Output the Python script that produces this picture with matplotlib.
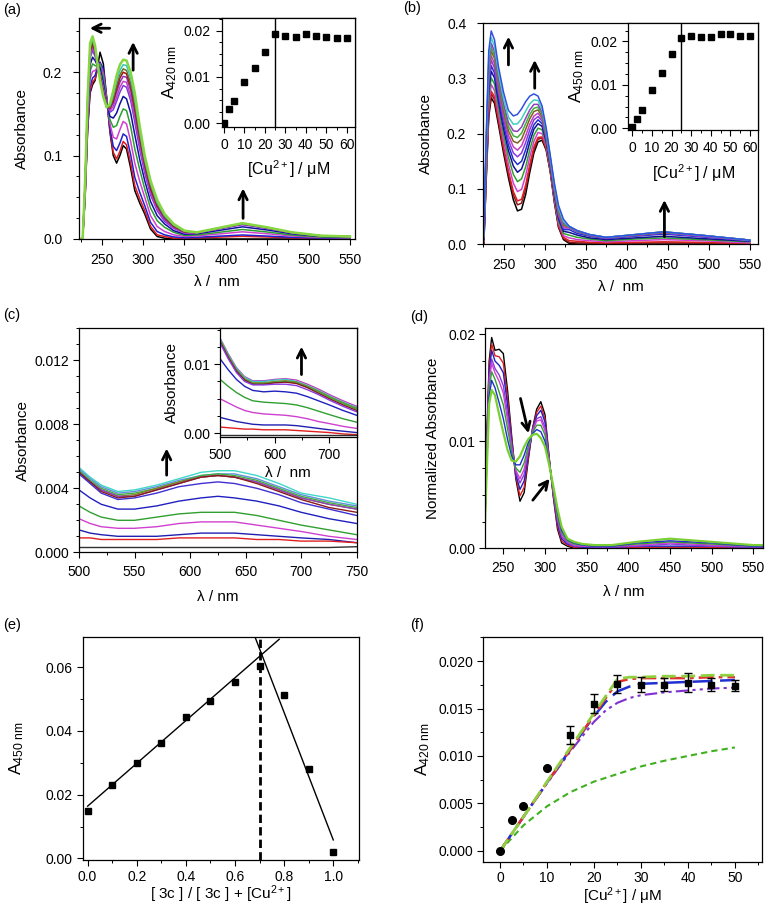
import matplotlib
matplotlib.use('Agg')
import matplotlib.pyplot as plt
from matplotlib.ticker import MultipleLocator, FormatStrFormatter

plt.rcParams['font.family'] = ['Liberation Sans', 'DejaVu Sans']
plt.rcParams['mathtext.fontset'] = 'custom'
plt.rcParams['mathtext.rm'] = 'Liberation Sans'
plt.rcParams['mathtext.it'] = 'Liberation Sans'
plt.rcParams['mathtext.default'] = 'regular'
plt.rcParams['font.size'] = 10

# ---------------- panel (a) ----------------
a_wl = [222, 227, 230, 233, 236, 239, 242, 245, 248, 252, 256, 260, 264, 268, 272, 276, 280, 285, 290, 296,
        302, 309, 317, 326, 337, 350, 365, 390, 420, 450, 480, 515, 550]
a_abs = [
    [0, 0, .050, .130, .175, .185, .190, .205, .224, .210, .170, .128, .100, .091, .100, .112, .108, .085, .058, .043,
     .030, .012, .003, .001, 0, 0, 0, 0, 0, 0, 0, 0, 0],
    [0, 0, .051, .132, .178, .188, .192, .205, .212, .200, .169, .130, .104, .096, .105, .117, .113, .091, .064, .048,
     .034, .015, .005, .003, .001, .001, .0014, .0022, .0032, .0024, .0014, .0007, .0005],
    [0, 0, .053, .136, .183, .193, .196, .206, .212, .204, .168, .133, .111, .106, .115, .126, .123, .101, .074, .056,
     .040, .020, .009, .005, .0025, .0014, .0020, .0033, .0048, .0035, .0020, .0010, .0008],
    [0, 0, .056, .141, .192, .201, .202, .206, .210, .199, .167, .138, .122, .120, .131, .141, .138, .117, .091, .069,
     .050, .028, .015, .009, .005, .003, .0036, .0059, .0086, .0063, .0036, .0018, .0014],
    [0, 0, .059, .147, .201, .210, .208, .207, .209, .193, .165, .143, .134, .136, .147, .156, .154, .135, .108, .083,
     .060, .037, .022, .014, .008, .0043, .0048, .0078, .0114, .0084, .0048, .0024, .0018],
    [0, 0, .061, .153, .209, .218, .214, .208, .205, .187, .163, .147, .145, .151, .162, .171, .168, .151, .125, .095,
     .070, .045, .028, .018, .010, .0057, .0062, .0100, .0146, .0108, .0062, .0031, .0023],
    [0, 0, .064, .158, .217, .226, .219, .209, .200, .182, .162, .152, .155, .165, .176, .184, .182, .166, .140, .107,
     .079, .053, .034, .021, .0126, .0070, .0072, .0117, .0171, .0126, .0072, .0036, .0027],
    [0, 0, .065, .160, .220, .229, .222, .209, .199, .180, .161, .154, .159, .170, .182, .189, .188, .171, .146, .112,
     .083, .056, .036, .023, .0135, .0075, .0074, .0121, .0177, .0130, .0074, .0037, .0028],
    [0, 0, .066, .162, .224, .232, .224, .209, .196, .178, .160, .156, .163, .176, .188, .195, .194, .178, .153, .118,
     .087, .059, .039, .024, .0146, .0081, .0076, .0124, .0180, .0133, .0076, .0038, .0029],
    [0, 0, .067, .164, .226, .234, .226, .209, .195, .176, .160, .157, .166, .180, .193, .200, .198, .183, .157, .121,
     .090, .061, .040, .026, .0153, .0085, .0077, .0125, .0182, .0134, .0077, .0038, .0029],
    [0, 0, .068, .166, .228, .237, .227, .209, .194, .174, .159, .158, .169, .184, .197, .204, .202, .187, .162, .125,
     .092, .064, .042, .027, .0160, .0089, .0078, .0126, .0184, .0136, .0078, .0039, .0029],
    [0, 0, .069, .168, .231, .240, .229, .210, .192, .172, .159, .160, .173, .190, .202, .209, .208, .193, .168, .129,
     .096, .067, .044, .028, .0170, .0094, .0078, .0127, .0186, .0137, .0078, .0039, .0029],
    [0, 0, .070, .170, .235, .243, .232, .210, .190, .170, .158, .162, .178, .196, .209, .215, .214, .200, .175, .135,
     .100, .070, .047, .030, .0180, .0100, .0080, .0130, .0190, .0140, .0080, .0040, .0030],
]
a_colors = ['#000000', '#e41a1c', '#2020d0', '#d040d0', '#2ca02c', '#1010a0', '#7b3ae0', '#c040c0',
            '#9030c0', '#a01010', '#707020', '#30c8c8', '#86d640']
a_ins_x = [0, 2.5, 5, 10, 15, 20, 25, 30, 35, 40, 45, 50, 55, 60]
a_ins_y = [0.0, 0.0032, 0.0048, 0.0090, 0.0119, 0.0153, 0.0192, 0.0189, 0.0186, 0.0192, 0.0189, 0.0186,
           0.0184, 0.0185]

# ---------------- panel (b) ----------------
b_wl = [222, 226, 229, 232, 235, 239, 244, 250, 256, 262, 267, 272, 277, 282, 287, 292, 297, 302, 307, 312,
        317, 323, 330, 340, 355, 375, 410, 445, 490, 550]
b_abs = [
    [0, 0, .12, .23, .265, .255, .215, .165, .12, .08, .06, .063, .09, .13, .165, .185, .188, .17, .13, .075,
     .03, .008, .001, 0, 0, 0, 0, 0, 0, 0],
    [0, .001, .125, .237, .272, .262, .221, .172, .127, .089, .071, .074, .1, .138, .171, .19, .192, .172, .132, .077,
     .032, .01, .003, .002, .002, .001, .002, .002, .002, .001],
    [0, .002, .128, .242, .277, .267, .226, .176, .132, .095, .078, .081, .107, .144, .176, .193, .194, .174, .133, .079,
     .034, .012, .006, .005, .003, .002, .003, .004, .003, .001],
    [0, .004, .136, .254, .289, .278, .236, .187, .144, .11, .095, .099, .124, .158, .186, .202, .2, .178, .136, .082,
     .038, .015, .011, .008, .006, .004, .006, .008, .006, .002],
    [0, .006, .144, .266, .301, .29, .247, .198, .157, .126, .113, .118, .14, .171, .197, .21, .207, .182, .139, .086,
     .042, .019, .016, .012, .009, .006, .009, .011, .008, .004],
    [0, .008, .152, .278, .313, .301, .257, .209, .169, .141, .13, .136, .157, .185, .208, .218, .213, .186, .142, .089,
     .046, .023, .021, .016, .011, .008, .011, .014, .01, .005],
    [0, .01, .158, .288, .323, .31, .265, .218, .179, .153, .144, .15, .171, .196, .216, .225, .218, .189, .144, .092,
     .049, .026, .026, .019, .014, .01, .014, .018, .013, .006],
    [0, .011, .165, .297, .333, .319, .274, .227, .188, .165, .158, .165, .184, .207, .225, .231, .223, .192, .147, .095,
     .052, .029, .029, .022, .015, .011, .015, .02, .014, .006],
    [0, .013, .17, .306, .341, .327, .281, .234, .197, .176, .17, .178, .196, .217, .232, .237, .227, .195, .149, .097,
     .055, .031, .03, .023, .016, .011, .016, .021, .015, .007],
    [0, .014, .176, .314, .35, .336, .289, .242, .205, .186, .183, .19, .208, .227, .24, .243, .231, .198, .151, .1,
     .058, .034, .031, .023, .016, .012, .016, .021, .016, .007],
    [0, .015, .181, .321, .357, .342, .295, .249, .213, .196, .193, .201, .218, .235, .246, .248, .235, .2, .153, .102,
     .06, .036, .031, .024, .017, .012, .017, .022, .016, .007],
    [0, .016, .186, .328, .364, .349, .301, .255, .22, .205, .204, .212, .228, .243, .253, .253, .239, .203, .155, .104,
     .063, .038, .032, .024, .017, .012, .017, .022, .016, .007],
    [0, .018, .192, .338, .374, .359, .31, .264, .23, .217, .218, .227, .241, .254, .261, .26, .244, .206, .157, .107,
     .066, .041, .032, .024, .017, .012, .017, .022, .016, .007],
    [0, .02, .2, .35, .386, .37, .32, .275, .242, .232, .235, .245, .258, .268, .272, .268, .25, .21, .16, .11,
     .07, .045, .032, .024, .017, .012, .017, .022, .016, .007],
]
b_colors = ['#000000', '#8b1a1a', '#e02020', '#d040d0', '#30a030', '#101090', '#2030d0', '#8a3ae0',
            '#c040c0', '#806020', '#40b040', '#9040c0', '#40d0c0', '#3050e0']
b_ins_x = [0, 2.5, 5, 10, 15, 20, 25, 30, 35, 40, 45, 50, 55, 60]
b_ins_y = [0.0003, 0.0022, 0.0042, 0.0087, 0.0128, 0.0170, 0.0207, 0.0212, 0.0210, 0.0210, 0.0217, 0.0218,
           0.0213, 0.0213]

# ---------------- panel (c) ----------------
c_wl = [500, 510, 520, 535, 550, 570, 590, 610, 625, 640, 660, 680, 700, 725, 750]
c_abs = [
    [.0053, .0047, .0042, .0038, .0039, .0042, .0046, .0050, .0051, .0051, .0048, .0043, .0037, .0034, .0030],
    [.0052, .0046, .0041, .0037, .0038, .0041, .0045, .0048, .0049, .0049, .0046, .0041, .0036, .0032, .0029],
    [.0051, .0045, .0040, .0036, .0037, .0040, .0044, .0048, .0049, .0048, .0045, .0040, .0035, .0031, .0028],
    [.0050, .0044, .0039, .0035, .0036, .0040, .0044, .0047, .0048, .0047, .0044, .0039, .0034, .0030, .0027],
    [.0050, .0044, .0039, .0035, .0035, .0039, .0043, .0047, .0048, .0047, .0044, .0039, .0034, .0030, .0027],
    [.0050, .0044, .0038, .0034, .0035, .0039, .0043, .0047, .0048, .0047, .0043, .0038, .0033, .0028, .0025],
    [.0049, .0043, .0037, .0033, .0034, .0037, .0041, .0043, .0044, .0043, .0040, .0036, .0031, .0027, .0023],
    [.0039, .0034, .0030, .0027, .0027, .0029, .0032, .0034, .0035, .0034, .0032, .0029, .0025, .0021, .0018],
    [.0029, .0025, .0022, .0020, .0020, .0022, .0024, .0025, .0025, .0025, .0023, .0020, .0017, .0014, .0011],
    [.0021, .0018, .0016, .0015, .0015, .0016, .0018, .0019, .0019, .0019, .0017, .0015, .0013, .0010, .0008],
    [.0014, .0012, .0011, .0010, .0010, .0010, .0011, .0012, .0012, .0012, .0011, .0010, .0009, .0008, .0006],
    [.0009, .0009, .0008, .0008, .0008, .0008, .0009, .0009, .0009, .0009, .0008, .0008, .0007, .0007, .0006],
    [.0003, .0003, .0003, .0003, .0003, .0003, .0003, .0003, .0003, .0003, .0003, .0003, .0003, .0003, .00035],
]
c_colors = ['#40d8c8', '#6090e0', '#40b040', '#808020', '#9040c0', '#8b1a1a', '#4030d0', '#2020c0',
            '#30a030', '#d040d0', '#2020b0', '#e02020', '#303030']
ci_wl = [500, 515, 530, 545, 560, 580, 600, 620, 640, 660, 680, 700, 725, 750]
ci_abs = [
    [.0138, .0115, .0095, .0082, .0076, .0076, .0078, .0079, .0077, .0071, .0064, .0056, .0047, .0039],
    [.0137, .0114, .0094, .0081, .0075, .0075, .0077, .0078, .0075, .0069, .0062, .0054, .0045, .0037],
    [.0135, .0112, .0092, .0079, .0073, .0073, .0075, .0076, .0074, .0068, .0061, .0053, .0044, .0036],
    [.0134, .0111, .0091, .0078, .0072, .0072, .0074, .0075, .0073, .0067, .0060, .0052, .0043, .0035],
    [.0133, .0110, .0090, .0077, .0071, .0071, .0073, .0074, .0072, .0066, .0058, .0050, .0041, .0033],
    [.0131, .0108, .0088, .0075, .0070, .0070, .0071, .0071, .0069, .0063, .0056, .0048, .0039, .0031],
    [.0108, .0092, .0078, .0068, .0062, .0060, .0061, .0060, .0058, .0053, .0047, .0041, .0033, .0026],
    [.0078, .0068, .0059, .0052, .0047, .0045, .0044, .0043, .0041, .0037, .0032, .0027, .0021, .0016],
    [.0050, .0044, .0038, .0033, .0030, .0028, .0027, .0026, .0024, .0021, .0017, .0014, .0010, .0007],
    [.0023, .0020, .0017, .0015, .0013, .0012, .0012, .0012, .0011, .0009, .0007, .0005, .0003, .0001],
    [.0009, .0008, .0007, .0006, .0006, .0005, .0005, .0005, .0004, .0003, .0002, .0001, -.0001, -.0002],
    [-.0003, -.0003, -.0003, -.0003, -.0003, -.0003, -.0003, -.0003, -.0003, -.0003, -.0003, -.0003, -.0003, -.0003],
]
ci_colors = ['#c040c0', '#40c8c8', '#808020', '#40b040', '#8b1a1a', '#8a3ae0', '#2020c0', '#30a030',
             '#d040d0', '#2020b0', '#e02020', '#303030']

# ---------------- panel (d) ----------------
d_wl = [224, 227, 230, 233, 236, 240, 245, 250, 255, 260, 265, 270, 275, 280, 285, 290, 295, 300, 305, 310,
        315, 320, 327, 335, 345, 360, 380, 410, 450, 500, 550, 562]
d_abs = [
    [0, 0, .0100, .0175, .0197, .0185, .0186, .0182, .0148, .0105, .0065, .0044, .0052, .0083, .0112, .0130,
     .0137, .0125, .0085, .0048, .0018, .0005, .0002, 0, 0, 0, 0, 0, 0, 0, 0, 0],
    [0, 0, .0096, .0170, .0191, .0180, .0179, .0173, .0141, .0102, .0067, .0049, .0057, .0085, .0111, .0127,
     .0133, .0121, .0084, .0049, .0020, .0007, .0003, .0001, 0, 0, 0, .0001, .0001, .0001, 0, 0],
    [0, 0, .0093, .0165, .0185, .0175, .0171, .0164, .0134, .0099, .0069, .0055, .0063, .0088, .0110, .0124,
     .0129, .0118, .0083, .0051, .0023, .0009, .0004, .0002, .0001, .0001, .0001, .0002, .0002, .0002, .0001, .0001],
    [0, 0, .0088, .0159, .0177, .0168, .0162, .0152, .0126, .0096, .0071, .0061, .0069, .0091, .0110, .0121,
     .0123, .0113, .0082, .0052, .0026, .0011, .0005, .0002, .0002, .0001, .0001, .0002, .0004, .0002, .0001, .0001],
    [0, 0, .0085, .0155, .0173, .0164, .0156, .0145, .0120, .0094, .0073, .0065, .0074, .0093, .0109, .0119,
     .0120, .0110, .0082, .0053, .0028, .0013, .0006, .0003, .0002, .0002, .0002, .0003, .0005, .0003, .0002, .0002],
    [0, 0, .0080, .0149, .0165, .0158, .0146, .0134, .0112, .0090, .0075, .0071, .0080, .0095, .0108, .0115,
     .0115, .0106, .0080, .0055, .0030, .0015, .0007, .0004, .0003, .0002, .0002, .0004, .0006, .0004, .0002, .0002],
    [0, 0, .0075, .0142, .0157, .0150, .0136, .0121, .0102, .0086, .0078, .0078, .0087, .0099, .0107, .0111,
     .0109, .0100, .0079, .0056, .0034, .0017, .0008, .0005, .0003, .0002, .0002, .0005, .0007, .0005, .0002, .0002],
    [0, 0, .0070, .0135, .0148, .0143, .0125, .0108, .0092, .0082, .0081, .0086, .0095, .0102, .0106, .0107,
     .0103, .0095, .0078, .0058, .0037, .0020, .0009, .0006, .0004, .0003, .0003, .0006, .0009, .0006, .0003, .0003],
]
d_colors = ['#000000', '#e02020', '#2020c0', '#8a3ae0', '#d040d0', '#30a030', '#2030d0', '#7ad030']

# ---------------- panel (e) ----------------
e_x = [0.0, 0.1, 0.2, 0.3, 0.4, 0.5, 0.6, 0.7, 0.8, 0.9, 1.0]
e_y = [0.0149, 0.0230, 0.0300, 0.0363, 0.0445, 0.0494, 0.0555, 0.0604, 0.0513, 0.0280, 0.0021]
e_fit1_x = [0.0, 0.78]
e_fit1_y = [0.0164, 0.0688]
e_fit2_x = [0.68, 1.0]
e_fit2_y = [0.0698, 0.0058]
e_job_x = 0.7

# ---------------- panel (f) ----------------
f_x = [0, 2.5, 5, 10, 15, 20, 25, 30, 35, 40, 45, 50]
f_y = [0.0, 0.0033, 0.0047, 0.0087, 0.0122, 0.0155, 0.0176, 0.0175, 0.0175, 0.0177, 0.0175, 0.0174]
f_err = [0, 0, 0, 0, 0.00095, 0.0010, 0.00095, 0.0008, 0.0007, 0.0010, 0.0007, 0.0006]
f_fit_x = [0, 5, 10, 15, 20, 22.5, 25, 27.5, 30, 35, 40, 45, 50]
f_fit_red = [0, .0036, .0072, .0107, .0143, .0161, .0178, .0181, .0182, .0182, .0182, .0183, .0183]
f_fit_lime = [0, .0036, .0073, .0109, .0145, .0163, .0181, .0183, .0183, .0184, .0184, .0185, .0185]
f_fit_blue = [0, .0036, .0072, .0107, .0142, .0157, .0168, .0173, .0176, .0177, .0178, .0179, .0180]
f_fit_purple = [0, .0036, .0071, .0105, .0136, .0148, .0156, .0161, .0164, .0167, .0169, .0171, .0172]
f_fit_green = [0, .0027, .0047, .0062, .0073, .0077, .0081, .0085, .0089, .0095, .0100, .0105, .0109]

W, H = 773, 909
LAB = 11
ALAB = 12.5


def rect(l, r, t, b):
    return [l / W, 1 - b / H, (r - l) / W, (b - t) / H]


def style(ax, xmaj, xmin, ymaj, ymin, yfmt, xfmt=None, fs=10, xpad=4, ypad=4):
    ax.xaxis.set_major_locator(MultipleLocator(xmaj))
    ax.xaxis.set_minor_locator(MultipleLocator(xmin))
    ax.yaxis.set_major_locator(MultipleLocator(ymaj))
    ax.yaxis.set_minor_locator(MultipleLocator(ymin))
    ax.yaxis.set_major_formatter(FormatStrFormatter(yfmt))
    if xfmt:
        ax.xaxis.set_major_formatter(FormatStrFormatter(xfmt))
    ax.tick_params(which='major', direction='out', length=4, width=0.8, labelsize=fs)
    ax.tick_params(axis='x', which='major', pad=xpad)
    ax.tick_params(axis='y', which='major', pad=ypad)
    ax.tick_params(which='minor', direction='out', length=2.5, width=0.7)
    for s in ax.spines.values():
        s.set_linewidth(0.9)


def arrow(ax, x0, y0, x1, y1):
    ax.annotate('', xy=(x1, y1), xytext=(x0, y0),
                arrowprops=dict(arrowstyle='->', lw=2.0, color='black', mutation_scale=15,
                                shrinkA=0, shrinkB=0))


fig = plt.figure(figsize=(W / 100, H / 100), dpi=100)

# (a)
ax = fig.add_axes(rect(79, 355, 18, 239))
for row, col in zip(a_abs, a_colors):
    ax.plot(a_wl, row, color=col, lw=1.8 if col == '#86d640' else 1.1)
ax.set_xlim(222.6, 556)
ax.set_ylim(0, 0.265)
style(ax, 50, 25, 0.1, 0.025, '%.1f', xpad=6, ypad=8)
ax.set_xlabel('λ /  nm', fontsize=LAB, labelpad=6)
ax.set_ylabel('Absorbance', fontsize=LAB, labelpad=10)
arrow(ax, 259.6, 0.2527, 235.6, 0.2527)
arrow(ax, 288, 0.2024, 288, 0.2363)
arrow(ax, 420.8, 0.0248, 420.8, 0.0607)
ins = fig.add_axes(rect(221.7, 355, 18, 126.7))
ins.plot(a_ins_x, a_ins_y, 's', color='black', ms=4.5)
ins.axvline(25, color='black', lw=1.0)
ins.set_xlim(-1.1, 64)
ins.set_ylim(-0.0007, 0.0227)
style(ins, 10, 5, 0.01, 0.0025, '%.2f', xpad=4, ypad=4)
ins.set_xlabel('[Cu$^{2+}$] / μM', fontsize=LAB + 0.5, labelpad=5)
ins.set_ylabel('A$_{420\\ nm}$', fontsize=ALAB, labelpad=3)

# (b)
ax = fig.add_axes(rect(483, 758, 22.7, 244))
for row, col in zip(b_abs, b_colors):
    ax.plot(b_wl, row, color=col, lw=1.1)
ax.set_xlim(225, 560)
ax.set_ylim(0, 0.401)
style(ax, 50, 25, 0.1, 0.05, '%.1f', xpad=6, ypad=8)
ax.set_xlabel('λ /  nm', fontsize=LAB, labelpad=6)
ax.set_ylabel('Absorbance', fontsize=LAB, labelpad=10)
arrow(ax, 256, 0.3245, 256, 0.3757)
arrow(ax, 288, 0.2822, 288, 0.3335)
arrow(ax, 446, 0.0132, 446, 0.0798)
ins = fig.add_axes(rect(628.3, 758, 22.7, 130))
ins.plot(b_ins_x, b_ins_y, 's', color='black', ms=4.5)
ins.axvline(25, color='black', lw=1.0)
ins.set_xlim(-2, 64)
ins.set_ylim(-0.0004, 0.0243)
style(ins, 10, 5, 0.01, 0.0025, '%.2f', xpad=4, ypad=4)
ins.set_xlabel('[Cu$^{2+}$] / μM', fontsize=LAB + 0.5, labelpad=5)
ins.set_ylabel('A$_{450\\ nm}$', fontsize=ALAB, labelpad=3)

# (c)
ax = fig.add_axes(rect(79, 356.7, 328.3, 552.3))
for row, col in zip(c_abs, c_colors):
    ax.plot(c_wl, row, color=col, lw=1.0)
ax.set_xlim(500, 750)
ax.set_ylim(0, 0.014)
style(ax, 50, 25, 0.004, 0.001, '%.3f', xpad=5, ypad=3)
ax.set_xlabel('λ / nm', fontsize=LAB, labelpad=8)
ax.set_ylabel('Absorbance', fontsize=LAB, labelpad=3)
arrow(ax, 578.9, 0.00482, 578.9, 0.00649)
ins = fig.add_axes(rect(220, 356.7, 328.3, 436.7))
for row, col in zip(ci_abs, ci_colors):
    ins.plot(ci_wl, row, color=col, lw=1.0)
ins.set_xlim(500, 750)
ins.set_ylim(-0.0005, 0.0152)
style(ins, 100, 50, 0.01, 0.0025, '%.2f', xpad=4, ypad=3)
ins.set_xlabel('λ /  nm', fontsize=LAB, labelpad=3)
ins.set_ylabel('Absorbance', fontsize=LAB, labelpad=3)
arrow(ins, 649, 0.0085, 649, 0.01255)

# (d)
ax = fig.add_axes(rect(485, 763.3, 328.3, 548.3))
for row, col in zip(d_abs, d_colors):
    ax.plot(d_wl, row, color=col, lw=1.6 if col == '#7ad030' else 1.0)
ax.set_xlim(228, 562)
ax.set_ylim(0, 0.02056)
style(ax, 50, 25, 0.01, 0.0025, '%.2f', xpad=5, ypad=3)
ax.set_xlabel('λ / nm', fontsize=LAB, labelpad=7)
ax.set_ylabel('Normalized Absorbance', fontsize=LAB, labelpad=6)
arrow(ax, 270.6, 0.0140, 280.3, 0.01075)
arrow(ax, 285.4, 0.0045, 305.6, 0.0065)

# (e)
ax = fig.add_axes(rect(82.7, 359.3, 636.7, 860))
ax.plot(e_x, e_y, 's', color='black', ms=4.5)
ax.plot(e_fit1_x, e_fit1_y, color='black', lw=1.0)
ax.plot(e_fit2_x, e_fit2_y, color='black', lw=1.0)
ax.axvline(e_job_x, color='black', lw=2.0, ls=(0, (3, 1.5)))
ax.set_xlim(-0.02, 1.106)
ax.set_ylim(-0.0005, 0.0696)
style(ax, 0.2, 0.1, 0.02, 0.01, '%.2f', '%.1f', xpad=3, ypad=3)
ax.set_xlabel('[ 3c ] / [ 3c ] + [Cu$^{2+}$]', fontsize=LAB, labelpad=0)
ax.set_ylabel('A$_{450\\ nm}$', fontsize=ALAB, labelpad=14)

# (f)
ax = fig.add_axes(rect(483.3, 761.7, 636.7, 861.7))
ax.plot(f_fit_x, f_fit_green, color='#40b020', lw=1.5, dashes=(3, 2))
ax.plot(f_fit_x, f_fit_purple, color='#8030d0', lw=1.5, dashes=(6, 2, 1.5, 2, 1.5, 2))
ax.plot(f_fit_x, f_fit_blue, color='#2030d0', lw=1.8, dashes=(8, 3))
ax.plot(f_fit_x, f_fit_red, color='#e03030', lw=1.8, dashes=(6, 2, 1.5, 2))
ax.plot(f_fit_x, f_fit_lime, color='#90d040', lw=2.0, dashes=(5, 2))
ax.errorbar(f_x[4:], f_y[4:], yerr=f_err[4:], fmt='s', color='black', ms=5, capsize=3, elinewidth=1.0,
            capthick=1.0)
ax.plot(f_x[:4], f_y[:4], 'o', color='black', ms=5.5)
ax.set_xlim(-3.55, 55.7)
ax.set_ylim(-0.00113, 0.02256)
style(ax, 10, 5, 0.005, 0.0025, '%.3f', xpad=3, ypad=3)
ax.set_xlabel('[Cu$^{2+}$] / μM', fontsize=LAB, labelpad=0)
ax.set_ylabel('A$_{420\\ nm}$', fontsize=ALAB, labelpad=5)

for lab, x, y in [('(a)', 3, 10), ('(b)', 403, 8), ('(c)', 3, 315), ('(d)', 410, 317),
                  ('(e)', 3, 625), ('(f)', 410, 625)]:
    fig.text(x / W, 1 - y / H, lab, fontsize=10.5, va='center', ha='left')

fig.savefig('out.png', dpi=100)
